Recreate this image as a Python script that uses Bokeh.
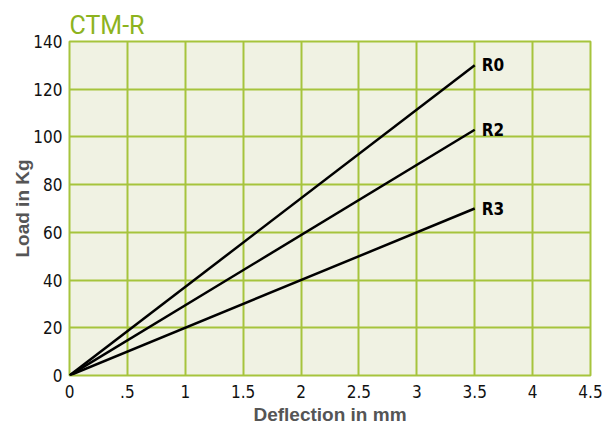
from bokeh.plotting import figure
from bokeh.models import Range1d, FixedTicker, ColumnDataSource
from bokeh.core.properties import value
from bokeh.embed import file_html
from bokeh.resources import INLINE

# data
title_text = "CTM-R"
series_names = ["R0", "R2", "R3"]
deflection = [0, 3.5]
load_R0 = [0, 130]
load_R2 = [0, 103]
load_R3 = [0, 70]
x_ticks = [0, 0.5, 1, 1.5, 2, 2.5, 3, 3.5, 4, 4.5]
x_tick_labels = ["0", ".5", "1", "1.5", "2", "2.5", "3", "3.5", "4", "4.5"]
y_ticks = [0, 20, 40, 60, 80, 100, 120, 140]

GREEN = "#a6c43c"
TITLE_GREEN = "#8db31e"
TICKFONT = "DejaVu Sans Condensed"

x_min, x_max = x_ticks[0], x_ticks[-1]
y_min, y_max = y_ticks[0], y_ticks[-1]

p = figure(width=603, height=430, output_backend="svg", toolbar_location=None,
           x_range=Range1d(x_min, x_max), y_range=Range1d(y_min, y_max),
           min_border_left=69, min_border_right=13, min_border_bottom=55, min_border_top=41)
p.title.text = title_text
p.title.text_color = TITLE_GREEN
p.title.text_font = "Roboto"
p.title.text_font_style = "normal"
p.title.text_font_size = "25px"
p.title.align = "left"
p.title.vertical_align = "top"
p.title.offset = 0
p.title.standoff = 0

p.background_fill_color = "#f0f2e3"
p.border_fill_color = "white"
p.outline_line_color = GREEN
p.outline_line_width = 2

p.xaxis.ticker = FixedTicker(ticks=x_ticks)
p.xaxis.major_label_overrides = {t: l for t, l in zip(x_ticks, x_tick_labels)}
p.yaxis.ticker = FixedTicker(ticks=y_ticks)

for ax in (p.xaxis, p.yaxis):
    ax.axis_line_color = None
    ax.major_tick_line_color = None
    ax.minor_tick_line_color = None
    ax.major_tick_out = 0
    ax.major_tick_in = 0
    ax.minor_tick_out = 0
    ax.minor_tick_in = 0
    ax.major_label_text_font = TICKFONT
    ax.major_label_text_font_size = "17px"
    ax.major_label_text_color = "#111111"
    ax.axis_label_text_font = "Liberation Sans"
    ax.axis_label_text_font_style = "bold"
    ax.axis_label_text_font_size = "19px"
    ax.axis_label_text_color = "#555555"
p.xaxis.axis_label = "Deflection in mm"
p.yaxis.axis_label = "Load in Kg"
p.xaxis.major_label_standoff = 9
p.yaxis.major_label_standoff = 7
p.xaxis.axis_label_standoff = 3
p.yaxis.axis_label_standoff = -3

p.grid.grid_line_color = GREEN
p.grid.grid_line_width = 2
p.grid.grid_line_alpha = 1

for ys in (load_R0, load_R2, load_R3):
    p.line(deflection, ys, line_color="black", line_width=2.5)

src = ColumnDataSource(dict(x=[deflection[-1]] * 3,
                            y=[load_R0[-1], load_R2[-1], load_R3[-1]],
                            t=series_names))
p.text(x="x", y="y", text="t", source=src, x_offset=7, text_baseline="middle",
       text_font=value(TICKFONT), text_font_style="bold", text_font_size="17px",
       text_color="black")

open("out.html", "w").write(file_html(p, INLINE))
